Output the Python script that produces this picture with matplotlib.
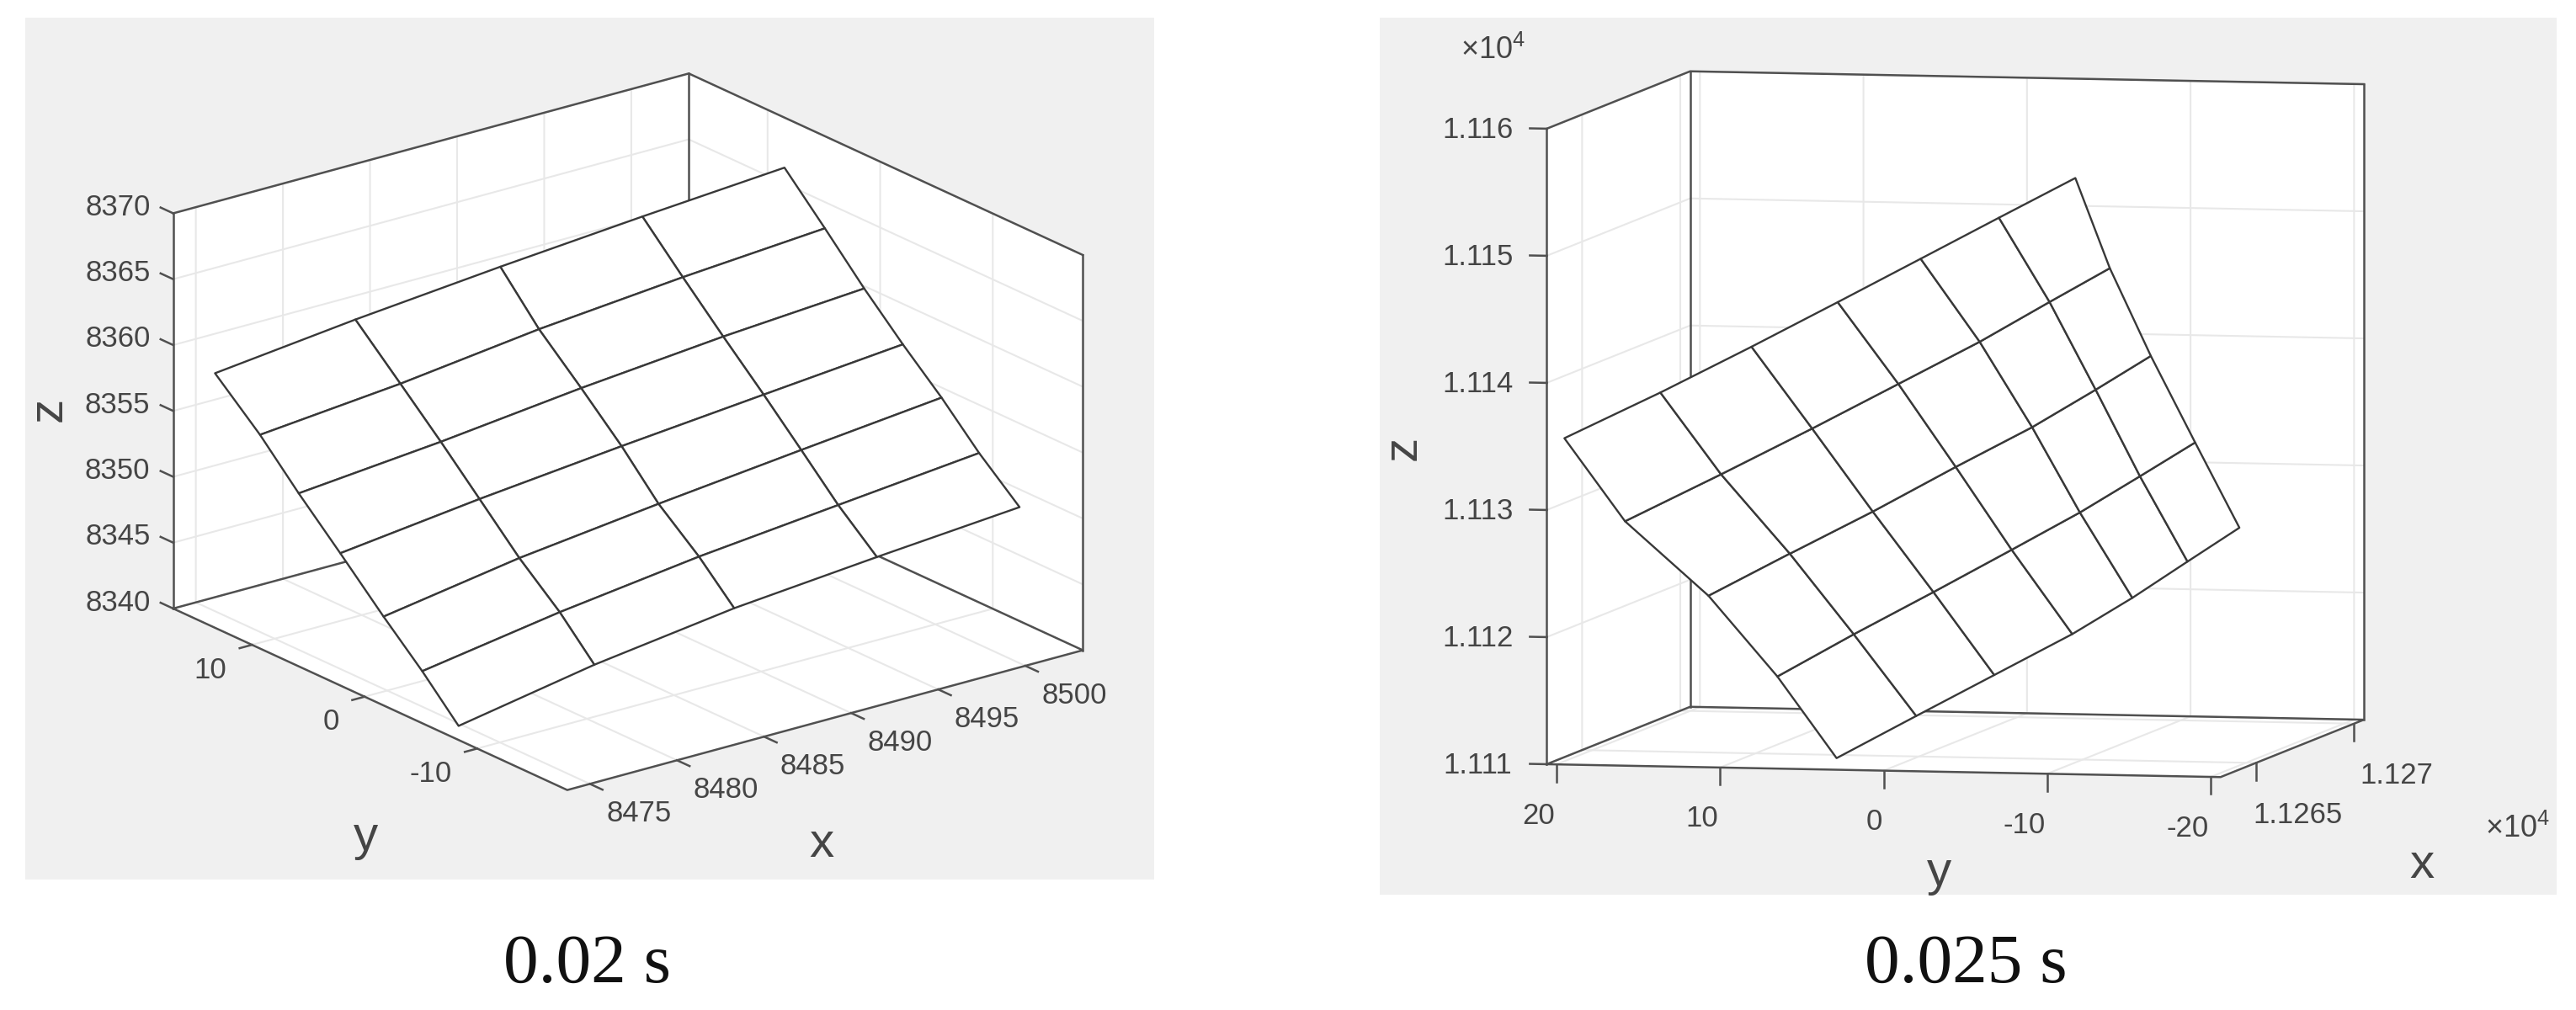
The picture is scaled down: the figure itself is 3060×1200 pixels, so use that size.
import matplotlib
matplotlib.use("Agg")
import matplotlib.pyplot as plt
import numpy as np
from mpl_toolkits.mplot3d import proj3d

plt.rcParams['font.family'] = ['Liberation Sans', 'DejaVu Sans']
plt.rcParams['mathtext.default'] = 'regular'
plt.rcParams['grid.color'] = '#e8e8e8'
plt.rcParams['grid.linewidth'] = 1.5

# surface at 0.02 s
x_a = [[8476.1, 8482.8, 8489.7, 8496.5, 8503.3],
       [8476.1, 8482.8, 8489.4, 8496.3, 8503.1],
       [8475.8, 8482.6, 8489.3, 8496.1, 8502.9],
       [8475.6, 8482.3, 8489.1, 8495.9, 8502.6],
       [8475.5, 8482.0, 8488.7, 8495.6, 8502.3],
       [8475.2, 8481.8, 8488.5, 8495.2, 8502.0],
       [8474.7, 8481.2, 8488.0, 8494.9, 8501.8]]
y_a = [[17.0, 14.9, 12.7, 10.6, 8.5],
       [13.0, 10.9, 8.8, 6.7, 4.6],
       [9.1, 7.0, 4.9, 2.8, 0.8],
       [5.1, 3.1, 1.0, -1.1, -3.1],
       [1.1, -0.9, -2.9, -4.9, -7.0],
       [-2.8, -4.8, -6.8, -8.8, -10.8],
       [-6.8, -8.8, -10.7, -12.7, -14.7]]
z_a = [[8357.0, 8359.5, 8361.9, 8364.1, 8366.2],
       [8353.9, 8356.2, 8358.8, 8361.1, 8363.2],
       [8351.1, 8353.4, 8355.9, 8358.2, 8360.2],
       [8348.2, 8350.7, 8353.1, 8355.4, 8357.6],
       [8345.0, 8347.9, 8350.4, 8352.8, 8355.2],
       [8342.5, 8345.4, 8348.0, 8350.3, 8352.6],
       [8340.1, 8343.2, 8345.8, 8348.0, 8350.1]]

# surface at 0.025 s
x_b = [[11263.93, 11263.99, 11264.05, 11264.11, 11264.17, 11264.24, 11264.30],
       [11264.02, 11264.08, 11264.14, 11264.20, 11264.26, 11264.32, 11264.39],
       [11264.11, 11264.17, 11264.23, 11264.29, 11264.35, 11264.42, 11264.48],
       [11264.20, 11264.26, 11264.32, 11264.39, 11264.45, 11264.51, 11264.57],
       [11264.30, 11264.36, 11264.42, 11264.48, 11264.54, 11264.60, 11264.66]]
y_b = [[20.4, 14.6, 9.1, 3.9, -1.1, -5.8, -10.4],
       [16.8, 11.0, 5.5, 0.3, -4.6, -8.8, -12.4],
       [11.8, 6.9, 1.9, -3.1, -7.7, -11.5, -14.8],
       [7.7, 3.1, -1.7, -6.4, -10.5, -14.1, -17.4],
       [4.2, -0.6, -5.3, -10.0, -13.6, -16.9, -20.0]]
z_b = [[11135.2, 11138.9, 11142.6, 11146.2, 11149.7, 11153.0, 11156.2],
       [11128.7, 11132.5, 11136.2, 11139.8, 11143.2, 11146.4, 11149.1],
       [11122.9, 11126.3, 11129.7, 11133.3, 11136.5, 11139.5, 11142.2],
       [11116.6, 11120.0, 11123.4, 11126.8, 11129.8, 11132.7, 11135.4],
       [11110.2, 11113.6, 11116.9, 11120.2, 11123.1, 11126.0, 11128.7]]

xlim_a, ylim_a, zlim_a = (8473.7, 8503.3), (-18, 17), (8340, 8370)
xticks_a = [8475, 8480, 8485, 8490, 8495, 8500]
xlabels_a = ['8475', '8480', '8485', '8490', '8495', '8500']
yticks_a = [-10, 0, 10]
ylabels_a = ['-10', '0', '10']
zticks_a = [8340, 8345, 8350, 8355, 8360, 8365, 8370]
zlabels_a = ['8340', '8345', '8350', '8355', '8360', '8365', '8370']

xlim_b, ylim_b, zlim_b = (11263.2, 11270.5), (-20.6, 20.6), (11110, 11160)
xticks_b = [11265, 11270]
xlabels_b = ['1.1265', '1.127']
yticks_b = [-20, -10, 0, 10, 20]
ylabels_b = ['-20', '-10', '0', '10', '20']
zticks_b = [11110, 11120, 11130, 11140, 11150, 11160]
zlabels_b = ['1.111', '1.112', '1.113', '1.114', '1.115', '1.116']

W, H = 3060, 1200
INK = '#454545'
LINE = '#505050'
MESH = '#383838'

fig = plt.figure(figsize=(W / 100, H / 100), dpi=100, facecolor='white')


def px_box(left, top, width, height):
    return [left / W, 1 - (top + height) / H, width / W, height / H]


def px_text(x, y, s, **kw):
    fig.text(x / W, 1 - y / H, s, ha='center', va='center', **kw)


def gray_panel(left, top, right, bottom):
    bg = fig.add_axes(px_box(left, top, right - left, bottom - top), zorder=0)
    bg.set_facecolor('#f0f0f0')
    bg.set_xticks([])
    bg.set_yticks([])
    for s in bg.spines.values():
        s.set_visible(False)


def box_3d(left, bottom, elev, azim, aspect, zoom, xlim, ylim, zlim):
    ax = fig.add_axes(px_box(left, H - bottom - 1000, 1000, 1000), projection='3d', proj_type='ortho',
                      computed_zorder=False, zorder=1)
    ax.set_facecolor('none')
    ax.view_init(elev=elev, azim=azim)
    ax.set_box_aspect(aspect, zoom=zoom)
    for axis in (ax.xaxis, ax.yaxis, ax.zaxis):
        axis.set_pane_color('white')
        axis.pane.set_edgecolor('white')
        axis.line.set_visible(False)
        axis._axinfo['tick']['inward_factor'] = 0.0
        axis._axinfo['tick']['outward_factor'] = 0.0

    # the walls and floor outline, behind the surface
    x0, x1 = xlim
    y0, y1 = ylim
    z0, z1 = zlim
    edges = [([x0, x1, x1, x0, x0], [y1, y1, y0, y0, y1], [z0, z0, z0, z0, z0]),
             ([x0, x1, x1], [y1, y1, y0], [z1, z1, z1]),
             ([x0, x0], [y1, y1], [z0, z1]),
             ([x1, x1], [y1, y1], [z0, z1]),
             ([x1, x1], [y0, y0], [z0, z1])]
    for ex, ey, ez in edges:
        ax.plot(ex, ey, ez, color=LINE, linewidth=1.8, zorder=1, clip_on=False)
    ax.set_xlim(*xlim)
    ax.set_ylim(*ylim)
    ax.set_zlim(*zlim)
    return ax


def tick_marks(ax, points, step, labels, offset, ha='center'):
    # short tick line and its label, starting at each axis point
    proj = ax.get_proj()
    for (x, y, z), s in zip(points, labels):
        ax.plot([x, x + step[0]], [y, y + step[1]], [z, z + step[2]], color=LINE, linewidth=1.8, zorder=1,
                clip_on=False)
        px, py, _ = proj3d.proj_transform(x, y, z, proj)
        ax.annotate(s, (px, py), xytext=offset, textcoords='offset pixels', ha=ha, va='center',
                    fontsize=25, color=INK, annotation_clip=False)


def surface(ax, x, y, z):
    ax.plot_surface(np.array(x), np.array(y), np.array(z), rstride=1, cstride=1, color='white',
                    edgecolor=MESH, linewidth=1.7, shade=False, zorder=2, clip_on=False)


def set_ticks(ax, xticks, yticks, zticks):
    ax.set_xticks(xticks, [''] * len(xticks))
    ax.set_yticks(yticks, [''] * len(yticks))
    ax.set_zticks(zticks, [''] * len(zticks))


# 0.02 s
gray_panel(30, 21, 1371, 1045)
ax1 = box_3d(232.5, 173.5, 20.7, -127.5, (772, 769, 502), 1.1646, xlim_a, ylim_a, zlim_a)
surface(ax1, x_a, y_a, z_a)
set_ticks(ax1, xticks_a, yticks_a, zticks_a)

dx_a = xlim_a[1] - xlim_a[0]
dy_a = ylim_a[1] - ylim_a[0]
tick_marks(ax1, [(xlim_a[0], ylim_a[1], t) for t in zticks_a], (0, 0.032 * dy_a, 0), zlabels_a, (-66, 7))
tick_marks(ax1, [(xlim_a[0], t, zlim_a[0]) for t in yticks_a], (-0.024 * dx_a, 0, 0), ylabels_a, (-30, -30), ha='right')
tick_marks(ax1, [(t, ylim_a[0], zlim_a[0]) for t in xticks_a], (0, -0.032 * dy_a, 0), xlabels_a, (58, -35))

px_text(58, 486, 'z', fontsize=42, rotation=90, color=INK)
px_text(435, 995, 'y', fontsize=42, color=INK)
px_text(976, 1003, 'x', fontsize=42, color=INK)
px_text(698, 1147, '0.02 s', fontsize=60, family='Liberation Serif', color='#111111')

# 0.025 s
gray_panel(1639, 21, 3037, 1063)
ax2 = box_3d(1809.2, 182.5, 5.02, -167.67, (797.4, 819.3, 758), 1.3316, xlim_b, ylim_b, zlim_b)
surface(ax2, x_b, y_b, z_b)
set_ticks(ax2, xticks_b, yticks_b, zticks_b)

dy_b = ylim_b[1] - ylim_b[0]
dz_b = zlim_b[1] - zlim_b[0]
tick_marks(ax2, [(xlim_b[0], ylim_b[1], t) for t in zticks_b], (0, 0.025 * dy_b, 0), zlabels_b, (-82, -2))
tick_marks(ax2, [(xlim_b[0], t, zlim_b[0]) for t in yticks_b], (0, 0, -0.027 * dz_b), ylabels_b, (-2, -61), ha='right')
tick_marks(ax2, [(t, ylim_b[0], zlim_b[0]) for t in xticks_b], (0, 0, -0.027 * dz_b), xlabels_b, (50, -62))

px_text(1667, 532, 'z', fontsize=42, rotation=90, color=INK)
px_text(2304, 1037, 'y', fontsize=42, color=INK)
px_text(2877, 1028, 'x', fontsize=42, color=INK)
px_text(1774, 60, r'$\times 10^{4}$', fontsize=26, color=INK)
px_text(2991, 985, r'$\times 10^{4}$', fontsize=26, color=INK)
px_text(2335, 1147, '0.025 s', fontsize=60, family='Liberation Serif', color='#111111')

fig.savefig('out.png', dpi=100)
